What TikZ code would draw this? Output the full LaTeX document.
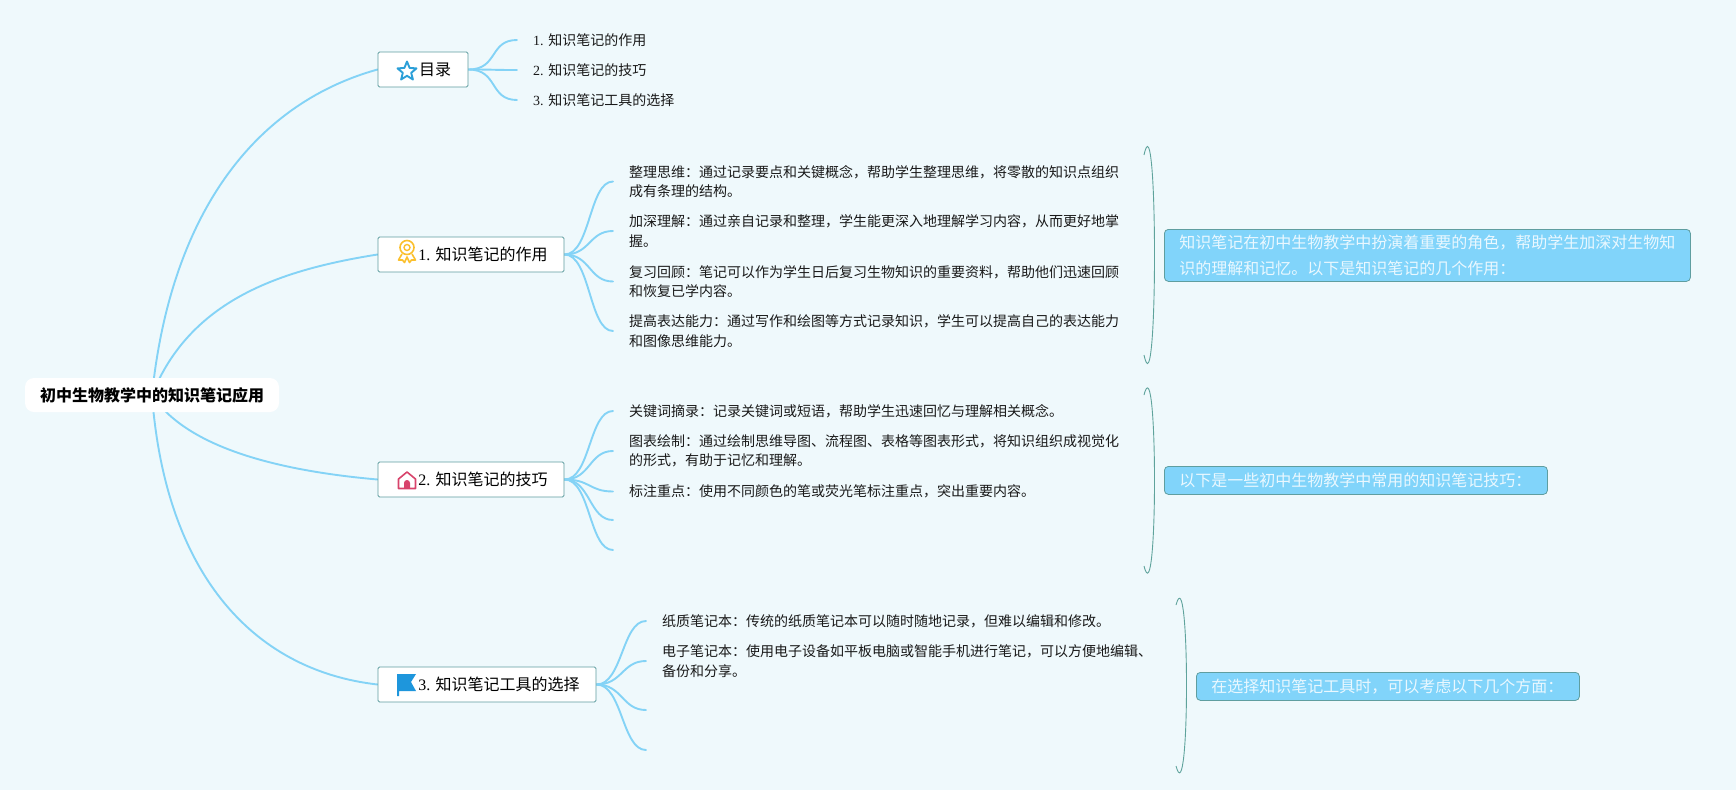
\documentclass[tikz,border=0pt]{standalone}
\usepackage{fontspec}
\setmainfont{Liberation Serif}
\newfontfamily\cjk{Noto Sans CJK SC}
\pgfdeclarelayer{bglayer}
\pgfdeclarelayer{connlayer}
\pgfsetlayers{bglayer,connlayer,main}
\definecolor{bgc}{HTML}{EFF9FC}
\definecolor{linec}{HTML}{84D3F6}
\definecolor{edgec}{HTML}{5F9EA0}
\definecolor{sumc}{HTML}{81D4FA}
\definecolor{sumt}{HTML}{EAF8FF}
\definecolor{brk}{HTML}{5FA39C}
\tikzset{
 x=1pt,y=-1pt,
 subjectbox/.style={fill=white,rounded corners=9pt,minimum width=254pt,minimum height=34pt,inner sep=0pt,font=\fontsize{16}{20}\selectfont\cjk\bfseries,text=black},
 topicbox/.style={draw=edgec,line width=0.9pt,fill=white,rounded corners=1.5pt,minimum height=35pt,inner sep=0pt,font=\fontsize{16}{20}\selectfont,text=black},
 leafbox/.style={anchor=west,align=left,inner xsep=16pt,inner ysep=0pt,font=\fontsize{14}{19.6}\selectfont,text=black!90},
 sumbox/.style={draw=edgec,line width=0.8pt,fill=sumc,rounded corners=4pt,anchor=north west,align=left,inner sep=0pt,text=sumt,font=\fontsize{16}{26}\selectfont\cjk},
 conn/.style={draw=linec,line width=1.9pt,line cap=round},
 bracket/.style={draw=brk,line width=0.9pt},
}
\begin{document}
\begin{tikzpicture}
\useasboundingbox (0,0) rectangle (1736,790);
\begin{pgfonlayer}{bglayer}
\fill[bgc] (0,0) rectangle (1736,790);
\end{pgfonlayer}

\node[subjectbox] (root) at (152,395) {初中生物教学中的知识笔记应用};

\node[topicbox,minimum width=90pt] (t0) at (423,69.5) {\hspace*{24pt}{\cjk 目录}};
\node[topicbox,minimum width=186pt] (t1) at (471,254.5) {\hspace*{24pt}1. {\cjk 知识笔记的作用}};
\node[topicbox,minimum width=186pt] (t2) at (471,479.5) {\hspace*{24pt}2. {\cjk 知识笔记的技巧}};
\node[topicbox,minimum width=218pt] (t3) at (487,684.5) {\hspace*{24pt}3. {\cjk 知识笔记工具的选择}};

% icons
\draw[draw=cyan!60!blue!80!black,line width=1.9pt,line join=round,color={rgb,255:red,43;green,159;blue,216}]
 (407,61.5) -- (409.6,67.9) -- (416.5,68.4) -- (411.2,72.8) -- (412.9,79.5) -- (407,75.8) -- (401.1,79.5) -- (402.8,72.8) -- (397.5,68.4) -- (404.4,67.9) -- cycle;
\definecolor{medal}{HTML}{FBC02D}
\draw[medal,line width=1.6pt] (407,247.5) circle (7);
\draw[medal,line width=1.4pt] (407,247.5) circle (3);
\draw[medal,line width=1.6pt,line join=round] (402,254) -- (398.5,260) -- (402.5,260) -- (404.5,262.5) -- (407,257) -- (409.5,262.5) -- (411.5,260) -- (415.5,260) -- (412,254);
\definecolor{housec}{HTML}{D8436B}
\draw[housec,line width=1.6pt,line join=round] (398.5,488.5) -- (398.5,479) -- (407,472) -- (415.5,479) -- (415.5,488.5) -- cycle;
\fill[housec] (404,488.5) -- (404,483) arc[start angle=180,end angle=360,x radius=3pt,y radius=-3pt] -- (410,488.5) -- cycle;
\definecolor{flagc}{HTML}{1E96DC}
\fill[flagc] (397,674) -- (416,674) -- (411,682) -- (416,691) -- (399,691) -- (399,696) -- (397,696) -- cycle;

% leaves under t0
\node[leafbox] (a1) at (517,40) {1. {\cjk 知识笔记的作用}};
\node[leafbox] (a2) at (517,70) {2. {\cjk 知识笔记的技巧}};
\node[leafbox] (a3) at (517,100) {3. {\cjk 知识笔记工具的选择}};

% leaves under t1
\node[leafbox,font=\fontsize{14}{19.6}\selectfont\cjk] (b1) at (613,181.5) {整理思维：通过记录要点和关键概念，帮助学生整理思维，将零散的知识点组织\\成有条理的结构。};
\node[leafbox,font=\fontsize{14}{19.6}\selectfont\cjk] (b2) at (613,231) {加深理解：通过亲自记录和整理，学生能更深入地理解学习内容，从而更好地掌\\握。};
\node[leafbox,font=\fontsize{14}{19.6}\selectfont\cjk] (b3) at (613,281.5) {复习回顾：笔记可以作为学生日后复习生物知识的重要资料，帮助他们迅速回顾\\和恢复已学内容。};
\node[leafbox,font=\fontsize{14}{19.6}\selectfont\cjk] (b4) at (613,331) {提高表达能力：通过写作和绘图等方式记录知识，学生可以提高自己的表达能力\\和图像思维能力。};

% leaves under t2
\node[leafbox,font=\fontsize{14}{19.6}\selectfont\cjk] (c1) at (613,411) {关键词摘录：记录关键词或短语，帮助学生迅速回忆与理解相关概念。};
\node[leafbox,font=\fontsize{14}{19.6}\selectfont\cjk] (c2) at (613,451) {图表绘制：通过绘制思维导图、流程图、表格等图表形式，将知识组织成视觉化\\的形式，有助于记忆和理解。};
\node[leafbox,font=\fontsize{14}{19.6}\selectfont\cjk] (c3) at (613,491.5) {标注重点：使用不同颜色的笔或荧光笔标注重点，突出重要内容。};
\coordinate (c4) at (613,520);
\coordinate (c5) at (613,550);

% leaves under t3
\node[leafbox,font=\fontsize{14}{19.6}\selectfont\cjk] (d1) at (646,621) {纸质笔记本：传统的纸质笔记本可以随时随地记录，但难以编辑和修改。};
\node[leafbox,font=\fontsize{14}{19.6}\selectfont\cjk] (d2) at (646,661) {电子笔记本：使用电子设备如平板电脑或智能手机进行笔记，可以方便地编辑、\\备份和分享。};
\coordinate (d3) at (646,710);
\coordinate (d4) at (646,750);

% summaries
\node[sumbox,minimum width=526pt,minimum height=52pt,text width=496pt,inner xsep=15pt] (s1) at (1164,229) {知识笔记在初中生物教学中扮演着重要的角色，帮助学生加深对生物知\\识的理解和记忆。以下是知识笔记的几个作用：};
\node[sumbox,minimum width=383pt,minimum height=28pt,text width=353pt,inner xsep=15pt] (s2) at (1164,466) {以下是一些初中生物教学中常用的知识笔记技巧：};
\node[sumbox,minimum width=383pt,minimum height=28pt,text width=353pt,inner xsep=15pt] (s3) at (1196,672) {在选择知识笔记工具时，可以考虑以下几个方面：};

\coordinate (k1a) at (1144,155);
\coordinate (k1b) at (1144,355);
\coordinate (k2a) at (1144,395);
\coordinate (k2b) at (1144,566);
\coordinate (k3a) at (1176,605);
\coordinate (k3b) at (1176,766);

\begin{pgfonlayer}{connlayer}
\draw[conn] (root.center) .. controls (170,220) and (250,105) .. (t0.west);
\draw[conn] (root.center) .. controls (190,300) and (280,270) .. (t1.west);
\draw[conn] (root.center) .. controls (185,445) and (270,470) .. (t2.west);
\draw[conn] (root.center) .. controls (165,570) and (250,670) .. (t3.west);
\foreach \l in {a1,a2,a3} \draw[conn] (t0.east) .. controls ([xshift=30pt]t0.east) and ([xshift=-28pt]\l.west) .. (\l.west);
\foreach \l in {b1,b2,b3,b4} \draw[conn] (t1.east) .. controls ([xshift=26pt]t1.east) and ([xshift=-24pt]\l.west) .. (\l.west);
\foreach \l in {c1,c2,c3,c4,c5} \draw[conn] (t2.east) .. controls ([xshift=26pt]t2.east) and ([xshift=-24pt]\l.west) .. (\l);
\foreach \l in {d1,d2,d3,d4} \draw[conn] (t3.east) .. controls ([xshift=26pt]t3.east) and ([xshift=-24pt]\l.west) .. (\l);
\draw[bracket] (k1a) .. controls ([xshift=14pt,yshift=65pt]k1a) and ([xshift=14pt,yshift=-65pt]k1b) .. (k1b);
\draw[bracket] (k2a) .. controls ([xshift=14pt,yshift=55pt]k2a) and ([xshift=14pt,yshift=-55pt]k2b) .. (k2b);
\draw[bracket] (k3a) .. controls ([xshift=14pt,yshift=52pt]k3a) and ([xshift=14pt,yshift=-52pt]k3b) .. (k3b);
\end{pgfonlayer}
\end{tikzpicture}
\end{document}
